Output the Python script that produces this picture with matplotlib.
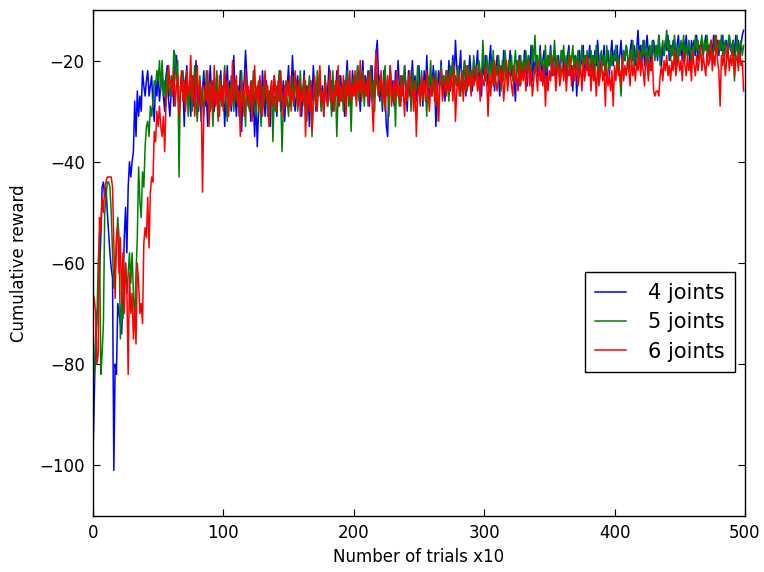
import matplotlib
matplotlib.use("Agg")
import matplotlib.pyplot as plt
import numpy as np

blue_4 = [
    -98, -86, -75, -70, -68, -62, -55, -45, -44, -47,
    -45, -50, -54, -58, -61, -63, -101, -80, -82, -68,
    -70, -72, -74, -67, -55, -49, -58, -45, -40, -43,
    -40, -38, -28, -35, -26, -31, -27, -30, -22, -25,
    -27, -24, -22, -27, -25, -23, -29, -32, -24, -27,
    -22, -28, -25, -21, -27, -30, -23, -21, -28, -31,
    -26, -24, -29, -20, -19, -24, -30, -27, -22, -25,
    -33, -24, -21, -28, -26, -31, -23, -29, -25, -20,
    -27, -30, -24, -32, -26, -22, -29, -27, -33, -25,
    -21, -28, -24, -30, -26, -23, -31, -27, -22, -29,
    -25, -33, -27, -21, -28, -24, -30, -26, -19, -27,
    -31, -25, -28, -22, -34, -26, -24, -18, -23, -29,
    -26, -32, -24, -28, -35, -27, -37, -30, -25, -29,
    -22, -27, -31, -24, -28, -26, -33, -25, -29, -23,
    -27, -31, -26, -22, -30, -28, -24, -32, -27, -25,
    -21, -29, -26, -19, -25, -30, -27, -23, -28, -24,
    -31, -26, -22, -29, -25, -27, -33, -24, -28, -21,
    -26, -30, -24, -27, -22, -29, -25, -31, -23, -28,
    -26, -21, -28, -24, -30, -25, -27, -22, -29, -26,
    -23, -28, -25, -31, -24, -20, -27, -25, -29, -22,
    -26, -23, -28, -21, -25, -30, -24, -20, -27, -23,
    -26, -22, -29, -24, -21, -27, -25, -19, -16, -23,
    -28, -24, -30, -22, -26, -33, -35, -25, -21, -27,
    -24, -29, -22, -26, -20, -25, -28, -23, -27, -21,
    -25, -30, -22, -27, -24, -20, -26, -23, -28, -25,
    -21, -27, -24, -29, -22, -26, -19, -25, -28, -23,
    -26, -21, -24, -33, -27, -22, -25, -20, -26, -23,
    -28, -22, -25, -20, -26, -23, -19, -24, -16, -21,
    -25, -22, -18, -26, -23, -20, -27, -21, -24, -19,
    -23, -26, -20, -24, -21, -18, -25, -22, -27, -20,
    -23, -19, -22, -25, -20, -17, -24, -21, -26, -22,
    -19, -23, -27, -21, -24, -18, -22, -20, -25, -21,
    -18, -23, -21, -24, -28, -20, -22, -19, -24, -21,
    -23, -18, -21, -25, -19, -22, -17, -24, -20, -22,
    -19, -23, -21, -17, -24, -20, -18, -22, -25, -19,
    -21, -17, -23, -20, -18, -24, -21, -19, -22, -20,
    -18, -22, -20, -24, -19, -17, -23, -21, -26, -20,
    -19, -27, -22, -18, -21, -20, -17, -23, -19, -22,
    -20, -17, -22, -19, -24, -18, -21, -16, -20, -23,
    -19, -21, -17, -22, -20, -18, -23, -19, -16, -21,
    -18, -20, -17, -22, -19, -16, -21, -18, -20, -17,
    -19, -22, -18, -16, -20, -17, -21, -18, -14, -19,
    -17, -20, -16, -21, -18, -15, -19, -17, -22, -18,
    -16, -19, -17, -20, -15, -18, -21, -17, -19, -16,
    -18, -15, -20, -17, -19, -16, -18, -21, -17, -15,
    -19, -17, -20, -16, -18, -15, -19, -17, -21, -16,
    -18, -16, -19, -15, -20, -17, -18, -16, -19, -17,
    -15, -18, -17, -20, -16, -19, -15, -18, -17, -16,
    -19, -16, -18, -15, -20, -17, -16, -19, -15, -18,
    -17, -16, -19, -15, -18, -16, -20, -17, -15, -14,
]

green_5 = [
    -85, -82, -76, -72, -60, -54, -82, -78, -72, -50,
    -47, -44, -44, -45, -50, -58, -65, -62, -56, -51,
    -55, -75, -68, -71, -64, -60, -66, -62, -58, -64,
    -58, -66, -72, -62, -55, -41, -48, -51, -42, -45,
    -37, -33, -32, -35, -29, -31, -28, -24, -25, -22,
    -24, -20, -26, -20, -27, -24, -29, -22, -25, -27,
    -23, -26, -18, -19, -24, -20, -43, -25, -26, -22,
    -25, -29, -22, -31, -27, -24, -30, -26, -21, -28,
    -32, -26, -23, -29, -25, -31, -27, -22, -28, -24,
    -30, -26, -33, -25, -28, -22, -27, -31, -24, -29,
    -26, -21, -28, -32, -25, -29, -23, -27, -30, -24,
    -28, -25, -31, -27, -22, -29, -26, -33, -24, -28,
    -30, -25, -27, -22, -29, -31, -26, -24, -28, -33,
    -25, -29, -23, -27, -31, -26, -28, -24, -36, -27,
    -30, -25, -28, -22, -27, -38, -29, -26, -24, -28,
    -31, -25, -27, -23, -29, -26, -24, -30, -27, -22,
    -28, -25, -29, -24, -32, -26, -23, -28, -35, -27,
    -25, -29, -22, -27, -24, -30, -26, -28, -23, -27,
    -29, -24, -26, -31, -22, -28, -25, -35, -27, -23,
    -28, -25, -30, -24, -27, -22, -29, -26, -34, -25,
    -23, -27, -25, -21, -28, -24, -26, -22, -29, -25,
    -27, -23, -26, -21, -28, -24, -30, -22, -25, -27,
    -23, -26, -29, -24, -21, -27, -25, -31, -22, -26,
    -28, -24, -33, -22, -26, -29, -23, -27, -25, -21,
    -26, -28, -23, -25, -30, -22, -27, -24, -26, -21,
    -25, -27, -22, -28, -24, -26, -31, -23, -25, -20,
    -27, -24, -28, -22, -26, -32, -24, -21, -25, -23,
    -26, -22, -25, -28, -21, -24, -20, -26, -23, -25,
    -21, -24, -27, -22, -25, -20, -23, -26, -21, -24,
    -22, -25, -19, -23, -21, -26, -20, -22, -24, -16,
    -21, -24, -19, -22, -26, -20, -23, -18, -25, -21,
    -23, -19, -22, -26, -20, -24, -18, -21, -23, -20,
    -22, -19, -24, -21, -18, -23, -20, -25, -19, -22,
    -20, -23, -18, -22, -19, -21, -24, -17, -20, -15,
    -22, -19, -23, -18, -21, -20, -24, -17, -22, -19,
    -21, -18, -23, -20, -16, -22, -19, -21, -24, -18,
    -20, -17, -22, -19, -23, -18, -21, -20, -17, -22,
    -19, -21, -18, -23, -20, -17, -22, -19, -21, -18,
    -20, -23, -18, -21, -19, -22, -17, -20, -24, -19,
    -18, -21, -19, -23, -17, -20, -22, -18, -21, -19,
    -20, -17, -22, -19, -23, -27, -21, -18, -20, -17,
    -19, -22, -18, -20, -16, -21, -19, -17, -20, -18,
    -21, -17, -19, -16, -20, -18, -22, -17, -19, -16,
    -18, -20, -17, -19, -15, -21, -18, -16, -19, -17,
    -14, -18, -16, -20, -17, -19, -15, -18, -21, -17,
    -19, -16, -18, -15, -20, -17, -19, -16, -18, -21,
    -17, -19, -15, -18, -16, -20, -17, -15, -19, -16,
    -18, -15, -19, -17, -16, -20, -18, -15, -17, -19,
    -16, -18, -15, -19, -17, -16, -20, -18, -15, -17,
    -19, -16, -24, -18, -15, -21, -17, -16, -19, -17,
]

red_6 = [
    -66, -67, -70, -80, -78, -51, -54, -47, -50, -45,
    -44, -43, -43, -43, -43, -45, -56, -67, -55, -53,
    -62, -55, -68, -58, -70, -60, -65, -82, -62, -70,
    -66, -75, -69, -76, -60, -64, -70, -68, -72, -56,
    -53, -55, -47, -57, -46, -43, -44, -34, -36, -30,
    -33, -29, -33, -35, -31, -38, -28, -26, -21, -25,
    -24, -27, -22, -29, -25, -23, -31, -26, -22, -28,
    -24, -30, -22, -27, -25, -19, -28, -23, -31, -26,
    -21, -29, -24, -27, -46, -30, -25, -28, -22, -33,
    -27, -24, -30, -21, -29, -26, -32, -23, -28, -25,
    -30, -22, -27, -24, -31, -26, -29, -20, -28, -25,
    -23, -29, -26, -35, -24, -28, -31, -22, -27, -25,
    -29, -24, -32, -26, -21, -28, -25, -30, -23, -27,
    -31, -26, -22, -28, -25, -33, -27, -24, -29, -23,
    -26, -30, -24, -28, -22, -27, -31, -25, -29, -24,
    -27, -23, -30, -26, -28, -22, -25, -29, -24, -31,
    -26, -28, -23, -35, -27, -25, -30, -24, -34, -28,
    -23, -27, -30, -25, -21, -28, -26, -31, -24, -27,
    -29, -25, -22, -28, -26, -30, -24, -27, -21, -29,
    -25, -28, -23, -26, -31, -24, -27, -22, -28, -25,
    -27, -22, -29, -24, -26, -20, -28, -25, -23, -27,
    -24, -29, -22, -26, -28, -34, -25, -18, -23, -27,
    -25, -22, -28, -24, -30, -26, -23, -27, -21, -29,
    -26, -24, -28, -22, -27, -25, -29, -23, -26, -31,
    -24, -28, -25, -22, -27, -26, -30, -24, -35, -27,
    -25, -29, -23, -27, -24, -28, -22, -26, -30, -25,
    -27, -23, -26, -29, -24, -32, -25, -22, -28, -26,
    -24, -27, -22, -26, -25, -23, -28, -21, -32, -26,
    -23, -27, -25, -22, -28, -24, -26, -21, -25, -23,
    -27, -22, -25, -24, -21, -26, -23, -28, -22, -24,
    -25, -21, -24, -31, -23, -27, -22, -25, -20, -24,
    -26, -23, -21, -25, -22, -28, -24, -20, -26, -23,
    -22, -25, -27, -21, -24, -23, -26, -20, -25, -22,
    -24, -21, -26, -23, -20, -25, -22, -27, -24, -21,
    -23, -26, -20, -24, -22, -25, -21, -29, -23, -26,
    -22, -24, -19, -23, -21, -26, -22, -20, -25, -23,
    -21, -24, -20, -26, -22, -23, -19, -25, -21, -24,
    -22, -20, -25, -23, -21, -26, -20, -24, -22, -19,
    -23, -21, -26, -20, -24, -22, -27, -21, -25, -23,
    -20, -24, -22, -29, -21, -25, -23, -26, -22, -29,
    -21, -24, -20, -23, -22, -25, -19, -24, -21, -23,
    -20, -22, -25, -19, -23, -21, -24, -20, -22, -18,
    -23, -20, -22, -25, -19, -21, -24, -20, -22, -19,
    -26, -27, -26, -26, -27, -23, -21, -24, -20, -22,
    -19, -23, -21, -24, -20, -22, -18, -23, -21, -19,
    -22, -20, -24, -18, -21, -23, -19, -22, -20, -24,
    -18, -21, -23, -19, -22, -20, -17, -22, -19, -21,
    -23, -18, -21, -20, -16, -22, -19, -21, -15, -20,
    -22, -29, -19, -21, -18, -23, -20, -17, -22, -19,
    -21, -18, -23, -20, -19, -22, -18, -21, -20, -26,
]

series_labels = ["4 joints", "5 joints", "6 joints"]
x_ticks = [0, 100, 200, 300, 400, 500]
y_ticks = [-100, -80, -60, -40, -20]

plt.rcParams['font.family'] = ['DejaVu Sans']

fig = plt.figure(figsize=(7.64, 5.72), dpi=100, facecolor='white')
ax = fig.add_axes([0.1217, 0.0979, 0.8533, 0.8846])

for vals, col, lab in zip([blue_4, green_5, red_6], ['b', 'g', 'r'], series_labels):
    ax.plot(np.arange(len(vals)), vals, color=col, lw=1.1, label=lab)

ax.set_xlim(0, 500)
ax.set_ylim(-110, -10)
ax.set_xticks(x_ticks)
ax.set_yticks(y_ticks)
ax.tick_params(direction='in', top=True, right=True, labelsize=12, length=5,
               width=0.8, pad=6)
for sp in ax.spines.values():
    sp.set_linewidth(1.0)
ax.set_xlabel("Number of trials x10", fontsize=12, labelpad=4)
ax.set_ylabel("Cumulative reward", fontsize=12, labelpad=8)

leg = ax.legend(loc='center right', bbox_to_anchor=(0.985, 0.383), fontsize=15,
                fancybox=False, framealpha=1.0, edgecolor='black', handlelength=1.5,
                borderpad=0.5, labelspacing=0.45, handletextpad=1.05,
                borderaxespad=0.0)
leg.get_frame().set_linewidth(1.0)

fig.savefig("out.png", dpi=100, facecolor='white')
